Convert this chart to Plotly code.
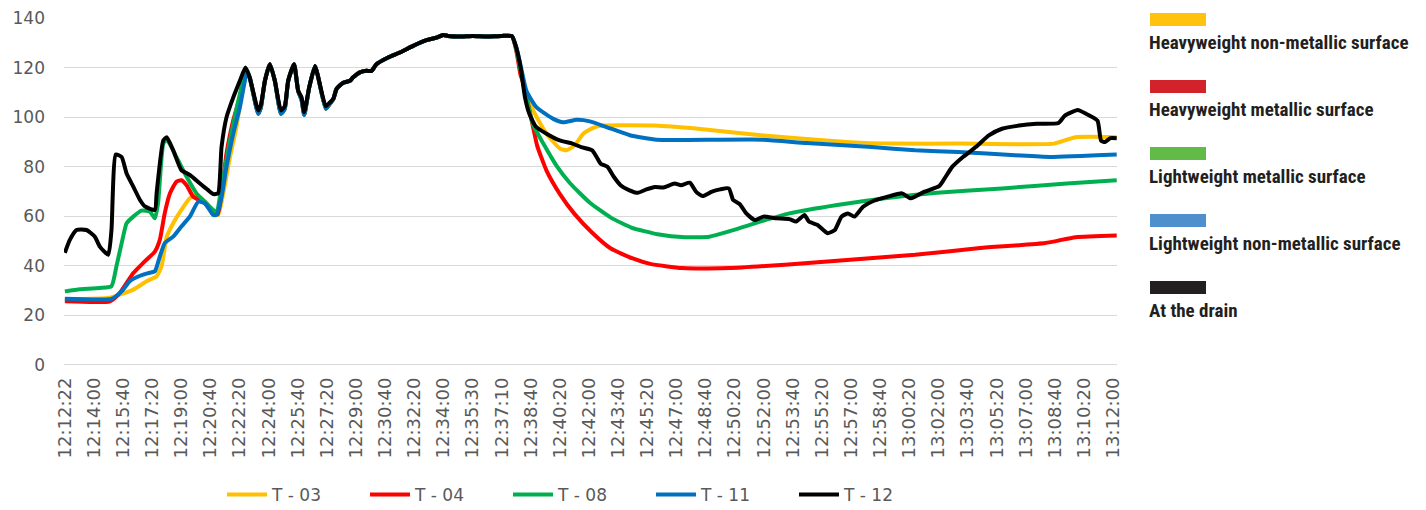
import plotly.graph_objects as go

# ---------------- data (x = sample index, one tick label every 10 samples) ----------------
tick_labels = ["12:12:22", "12:14:00", "12:15:40", "12:17:20", "12:19:00", "12:20:40", "12:22:20",
               "12:24:00", "12:25:40", "12:27:20", "12:29:00", "12:30:40", "12:32:20", "12:34:00",
               "12:35:30", "12:37:10", "12:38:40", "12:40:20", "12:42:00", "12:43:40", "12:45:20",
               "12:47:00", "12:48:40", "12:50:20", "12:52:00", "12:53:40", "12:55:20", "12:57:00",
               "12:58:40", "13:00:20", "13:02:00", "13:03:40", "13:05:20", "13:07:00", "13:08:40",
               "13:10:20", "13:12:00"]
y_ticks = [0, 20, 40, 60, 80, 100, 120, 140]

# oscillating heating phase (shared by all sensors)
zig_x = [63.5, 66.4, 67.3, 68.7, 70.4, 72.1, 74.2, 75.5, 76.7, 78.7, 80.1, 81.3, 82.2, 83.9,
         85.9, 87, 89.6, 91, 92.2, 93.3, 95.6, 97.9, 99, 101.3]
zig_black = [116, 102.8, 105, 114.8, 121.5, 114.8, 102.8, 104.4, 114.8, 121.5, 110.8, 108, 102.1,
             112.1, 120.8, 116.2, 104.5, 106, 107.5, 111.5, 114, 114.8, 116.2, 118.2]
zig_color = [116, 101.5, 104, 114.8, 121.5, 114.8, 101.5, 103.5, 114.8, 121.5, 110.8, 107, 101,
             112.1, 120.8, 116.2, 103.5, 105.5, 107.5, 111.5, 114, 114.8, 116.2, 118.2]

# slow rise and plateau (shared)
plateau_x = [103.6, 105.3, 107, 111, 115, 119.6, 124.2, 127.6, 129.9, 131.6, 136, 140, 145, 150, 153.5]
plateau_y = [118.8, 118.8, 121.5, 124.2, 126.2, 128.9, 131.2, 132.2, 133.3, 132.9, 132.7, 132.9,
             132.7, 132.9, 132.8]

# T-03 : heavyweight non-metallic surface
t03_start_x = [0, 15.5, 18.9, 23.5, 28.1, 31.5, 33.2, 35, 37.2, 40, 42.9, 45.2, 48.6, 50.9, 52.6,
               54.4, 56.7, 58.9, 62.3]
t03_start_y = [26.4, 27.1, 28.4, 30.4, 33.8, 35.8, 39.8, 51.8, 57.2, 62.6, 67.3, 68.6, 65.3, 61.3,
               60.6, 69.3, 84, 96, 119.5]
t03_end_x = [155, 156.5, 158, 160.8, 165.4, 170, 172.3, 175.1, 178, 181.4, 184.9, 202.6, 217.5,
             239.9, 269.7, 284.5, 306.9, 339.6, 347.1, 361.2]
t03_end_y = [128, 119, 110, 102.8, 93.4, 87.4, 86.7, 88.7, 93.4, 95.8, 96.7, 96.7, 95.4, 92.7,
             90, 89.4, 89.4, 89.4, 92, 92]

# T-04 : heavyweight metallic surface
t04_start_x = [0, 15.5, 18.9, 23.5, 26.9, 30.9, 32.6, 34.3, 36.1, 38.3, 40, 41.8, 44.1, 47.5,
               50.9, 52.6, 55.5, 57.8, 60.1, 62.1]
t04_start_y = [25.7, 25.7, 29.1, 37.1, 41.2, 45.8, 50.5, 61.3, 69.3, 74, 74.6, 72.6, 67.9, 65.9,
               61.9, 61, 85.4, 98.7, 108.1, 119.5]
t04_end_x = [155, 156.5, 157.4, 159.1, 160.8, 162.2, 165.4, 170, 175, 181, 187.5, 195, 201, 212,
             228, 247.3, 269.7, 292, 314.3, 336.7, 347.1, 361.2]
t04_end_y = [127, 117, 114, 105, 96, 88.5, 78.5, 69, 61, 53.5, 47, 43, 40.8, 39.1, 39.1, 40.5,
             42.5, 44.5, 47.2, 49.2, 51.6, 52.3]

# T-08 : lightweight metallic surface
t08_start_x = [0, 4, 12, 16, 17.7, 19.5, 21.2, 23.5, 26.3, 29.2, 30.9, 32, 33.8, 35, 38.3, 41.8,
               45.2, 48.1, 50.9, 52.1, 53.8, 56.7, 60.1, 62.4]
t08_start_y = [29.7, 30.4, 31.1, 31.8, 39.8, 49.2, 57.2, 59.9, 62.3, 61.9, 59.2, 65.3, 89.4, 91,
               84, 76, 69.3, 65.9, 62.6, 61.9, 72, 90.7, 109.5, 119.5]
t08_end_x = [155, 156.5, 158.5, 160.8, 164.3, 168.8, 173.4, 180.3, 187.5, 194.5, 203.5, 213, 221.3,
             228, 236.9, 248.8, 265.2, 281.6, 299.5, 321.8, 344.1, 361.2]
t08_end_y = [127.5, 119, 108, 97, 89.4, 80.5, 73.5, 65.5, 59.5, 55.5, 52.8, 51.6, 51.8, 53.9,
             57.2, 61.2, 64.6, 67.3, 69.5, 71.3, 73.3, 74.6]

# T-11 : lightweight non-metallic surface
t11_start_x = [0, 16, 19.5, 22.3, 25.8, 28.6, 30.9, 32.6, 34.3, 37.2, 40, 42.9, 45.8, 48.1, 50.9,
               52.1, 53.8, 55.5, 57.8, 60.1, 62.6]
t11_start_y = [26.7, 26.7, 29.7, 33.8, 36, 37.1, 37.8, 43.8, 49.2, 51.8, 55.9, 59.9, 65.9, 65.3,
               60.6, 60.6, 67.9, 80, 93.4, 104.1, 118.5]
t11_end_x = [155, 156.5, 158.5, 161.9, 167.7, 171.1, 175.7, 180.3, 186, 194, 203.2, 213.5, 239.9,
             254.8, 277.1, 292, 306.9, 326.3, 338.2, 361.2]
t11_end_y = [128.5, 121, 110.8, 104.1, 99.4, 98, 99, 98.4, 96.1, 92.8, 91, 90.9, 91, 89.6, 88,
             86.7, 86, 84.7, 84, 85]

# T-12 : at the drain
t12_start_x = [0, 1.7, 4, 7.4, 10.3, 12, 14.9, 16, 17.5, 19.5, 21.2, 23.5, 25.8, 27.5, 30.9, 31.5,
               33.8, 35, 37.2, 40, 43, 46.4, 49.2, 51, 52.6, 53.8, 55.5, 57.8, 60.1, 62]
t12_start_y = [45.3, 50.5, 54.5, 54.5, 51.8, 47.8, 44.5, 54.5, 85, 84, 77.3, 72, 66.6, 64, 62.6,
               69.3, 90.7, 92, 86.7, 78.7, 76.7, 73.3, 70.6, 69, 69.3, 88, 100, 108, 114.8, 120.2]
t12_end_x = [155, 156.5, 158, 159.5, 161.7, 165.4, 169.9, 174.3, 177.3, 181.1, 182.6, 184, 186.3,
             188.5, 190.8, 193.7, 196.7, 199.7, 202.6, 205.6, 209.4, 211.6, 214.6, 216.8, 219, 222,
             225, 228, 229.5, 231.7, 234, 236.9, 239.9, 244.4, 248.8, 251.1, 254, 255.5, 258.5,
             261.9, 264.4, 266.7, 268.9, 271.1, 274.1, 277.8, 282.3, 287.5, 290.5, 295, 300.2,
             301.7, 304.7, 308.4, 312.8, 317.3, 321.8, 327.7, 333.7, 341.2, 343.4, 347.8, 350.8,
             354.6, 355.8, 357.2, 359, 361.2]
t12_end_y = [128.2, 120.2, 108.1, 101.4, 96.3, 93.4, 90.7, 89.4, 88, 86.7, 84, 81.3, 80, 76, 72.6,
             70.6, 69.5, 70.9, 71.9, 71.7, 73.3, 72.6, 73.6, 69.9, 68.2, 69.9, 70.9, 71.3, 66.6, 65,
             61.2, 58.5, 59.9, 59.2, 58.9, 57.9, 60.6, 57.9, 56.5, 53.2, 54.5, 59.9, 61.2, 59.9,
             63.9, 66.3, 67.9, 69.3, 67.3, 69.9, 72.2, 74.6, 80, 84, 88, 92.7, 95.4, 96.7, 97.4,
             97.7, 100.7, 103, 101.4, 98.7, 90.7, 90, 91.6, 91.6]

series_names = ["T - 03", "T - 04", "T - 08", "T - 11", "T - 12"]
series_colors = ["#FFC000", "#FF0000", "#00B050", "#0070C0", "#000000"]

side_labels = ["Heavyweight non-metallic surface", "Heavyweight metallic surface",
               "Lightweight metallic surface", "Lightweight non-metallic surface", "At the drain"]
side_colors = ["#FFC20E", "#D2232A", "#62BB46", "#4F8FCD", "#231F20"]

# ---------------- assemble ----------------
series_x = [
    t03_start_x + zig_x + plateau_x + t03_end_x,
    t04_start_x + zig_x + plateau_x + t04_end_x,
    t08_start_x + zig_x + plateau_x + t08_end_x,
    t11_start_x + zig_x + plateau_x + t11_end_x,
    t12_start_x + zig_x + plateau_x + t12_end_x,
]
series_y = [
    t03_start_y + zig_color + plateau_y + t03_end_y,
    t04_start_y + zig_color + plateau_y + t04_end_y,
    t08_start_y + zig_color + plateau_y + t08_end_y,
    t11_start_y + zig_color + plateau_y + t11_end_y,
    t12_start_y + zig_black + plateau_y + t12_end_y,
]

# The page body has an 8px default margin, so the figure is sized/offset to fill the window.
OFF = 8
W, H = 1426 - OFF, 510 - OFF
L, R, T, B = 64 - OFF, 1117 - OFF, 18 - OFF, 365 - OFF  # plot area in figure pixels

fig = go.Figure()
for name, col, xs, ys in zip(series_names, series_colors, series_x, series_y):
    fig.add_trace(go.Scatter(x=xs, y=ys, mode="lines", name=name,
                             line=dict(color=col, width=4, shape="spline", smoothing=0.5)))

def pxx(p):  # screen pixel -> paper x
    return (p - OFF - L) / (R - L)

def pxy(p):  # screen pixel -> paper y
    return (B - (p - OFF)) / (B - T)

shapes = []
annotations = []
rect_tops = [13, 80, 147, 214, 281]
text_mid = [42, 109, 176, 243, 310]
for lab, col, top, mid in zip(side_labels, side_colors, rect_tops, text_mid):
    shapes.append(dict(type="rect", xref="paper", yref="paper",
                       x0=pxx(1150), x1=pxx(1206), y0=pxy(top + 13), y1=pxy(top),
                       fillcolor=col, line=dict(width=0)))
    annotations.append(dict(xref="paper", yref="paper", x=pxx(1147), y=pxy(mid),
                            xanchor="left", yanchor="middle", showarrow=False,
                            text="<b>" + lab + "</b>",
                            font=dict(family="Liberation Sans Narrow, Roboto Condensed, Roboto",
                                      size=19, color="#231F20")))

tick_font = dict(family="DejaVu Sans", size=17, color="#595959")

fig.update_layout(
    width=W, height=H,
    margin=dict(l=L, r=W - R, t=T, b=H - B, pad=0, autoexpand=False),
    paper_bgcolor="white", plot_bgcolor="white",
    showlegend=True,
    legend=dict(orientation="h", x=pxx(222), xanchor="left", y=pxy(495), yanchor="middle",
                font=dict(family="DejaVu Sans", size=17, color="#595959"),
                entrywidth=88, itemwidth=40, bgcolor="rgba(0,0,0,0)"),
    shapes=shapes,
    annotations=annotations,
    xaxis=dict(range=[-0.3, 361.3], tickmode="array", automargin=False,
               tickvals=[10 * i for i in range(len(tick_labels))], ticktext=tick_labels,
               tickangle=-90, tickfont=dict(family="DejaVu Sans", size=18, color="#595959"),
               showgrid=False, zeroline=False,
               showline=False, ticks="", ticklabelstandoff=8),
    yaxis=dict(range=[-0.05, 140.15], tickmode="array", tickvals=y_ticks,
               ticktext=[str(v) for v in y_ticks], tickfont=tick_font, showgrid=True,
               automargin=False, gridcolor="#D9D9D9", gridwidth=1.3, zeroline=True,
               zerolinecolor="#D9D9D9", zerolinewidth=1.3, showline=False, ticks="",
               ticklabelstandoff=18),
)

fig.write_html("out.html")
